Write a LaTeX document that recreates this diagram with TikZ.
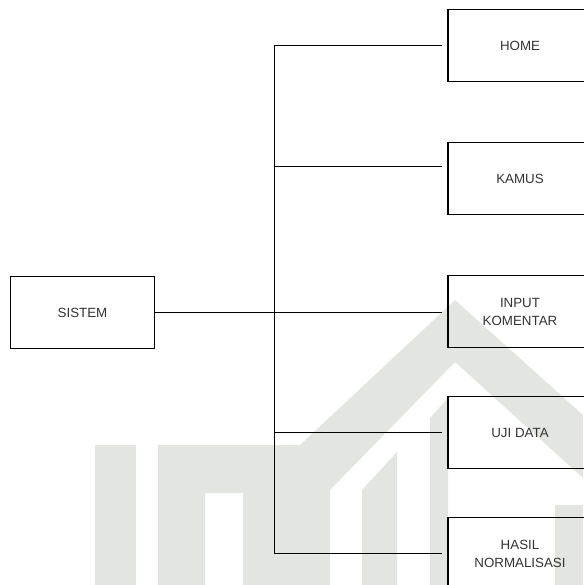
\documentclass[tikz,border=0pt]{standalone}
\usepackage{fontspec}
\setmainfont{Liberation Sans}
\usetikzlibrary{positioning}
\definecolor{teks}{RGB}{51,51,51}
\definecolor{tandaair}{RGB}{227,230,224}

\begin{document}
\begin{tikzpicture}[x=0.75pt, y=-0.75pt, node distance=45pt,
    kotak/.style={draw, line width=0.8pt, minimum width=108pt, minimum height=54pt,
      align=center, text=teks, font=\fontsize{10pt}{13.5pt}\selectfont},
    garis/.style={line width=0.75pt}]
  \useasboundingbox (0,0) rectangle (583,585);

  % Tanda air
  \fill[tandaair] (95,445) rectangle (136,585);
  \fill[tandaair, even odd rule] (158,445) -- (300,445) -- (300,585) -- (158,585) -- cycle
    (205,493) rectangle (243,585);
  \fill[tandaair] (300,445) -- (455,300) -- (583,415) -- (583,478) -- (455,362)
    -- (330,490) -- (330,585) -- (300,585) -- cycle;
  \fill[tandaair] (362,585) -- (362,490) -- (397,452) -- (397,585) -- cycle;
  \fill[tandaair] (430,585) -- (430,418) -- (448,398) -- (448,585) -- cycle;
  \fill[tandaair] (555,505) rectangle (583,585);

  % Kotak
  \node[kotak] (sistem) at (82.5,312.5) {SISTEM};
  \node[kotak] (home) at (520,45.5) {HOME};
  \node[kotak, below=of home] (kamus) {KAMUS};
  \node[kotak, below=of kamus] (input) {INPUT\\KOMENTAR};
  \node[kotak, below=36pt of input] (uji) {UJI DATA};
  \node[kotak, below=36pt of uji] (hasil) {HASIL\\NORMALISASI};

  % Garis
  \coordinate (trunk) at (274,312);
  \coordinate (kamusin) at ([yshift=9pt]kamus.west);
  \draw[garis] (trunk |- home.west) -- (trunk |- hasil.west);
  \draw[garis, shorten >=3.75pt] (sistem.east) -- (sistem.east -| input.west);
  \foreach \n in {home,uji,hasil}
    \draw[garis, shorten >=3.75pt] (trunk |- \n.west) -- (\n.west);
  \draw[garis, shorten >=3.75pt] (kamusin -| trunk) -- (kamusin);
\end{tikzpicture}
\end{document}
